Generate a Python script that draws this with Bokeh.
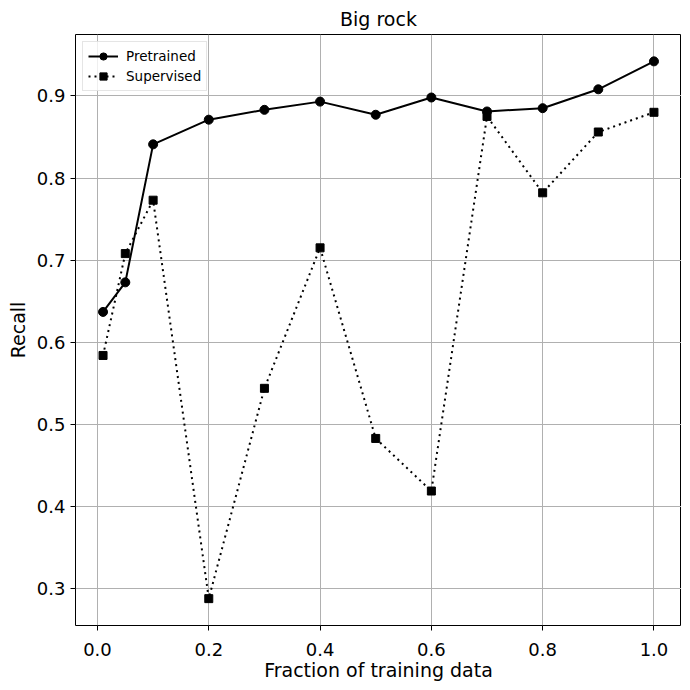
from bokeh.plotting import figure
from bokeh.models import Range1d, FixedTicker, Legend, LegendItem, PrintfTickFormatter
from bokeh.embed import file_html
from bokeh.resources import INLINE

fractions = [0.01, 0.05, 0.1, 0.2, 0.3, 0.4, 0.5, 0.6, 0.7, 0.8, 0.9, 1.0]
pretrained = [0.637, 0.673, 0.841, 0.871, 0.883, 0.893, 0.877, 0.898, 0.881, 0.885, 0.908, 0.942]
supervised = [0.584, 0.708, 0.773, 0.288, 0.544, 0.715, 0.483, 0.419, 0.875, 0.782, 0.856, 0.880]
x_ticks = [0.0, 0.2, 0.4, 0.6, 0.8, 1.0]
y_ticks = [0.3, 0.4, 0.5, 0.6, 0.7, 0.8, 0.9]

FONT = "DejaVu Sans"

p = figure(width=681, height=683, output_backend="svg", toolbar_location=None,
           x_range=Range1d(-0.0395, 1.0495), y_range=Range1d(0.2553, 0.9747),
           min_border_left=75, min_border_right=0, min_border_top=0, min_border_bottom=10)

p.title.text = "Big rock"
p.title.align = "center"
p.title.text_font = FONT
p.title.text_font_size = "19px"
p.title.text_font_style = "normal"
p.title.text_color = "black"

p.outline_line_color = "black"
p.outline_line_width = 1
p.outline_line_alpha = 1

for ax in (p.xaxis[0], p.yaxis[0]):
    ax.axis_line_color = None
    ax.major_tick_in = 0
    ax.major_tick_out = 5
    ax.minor_tick_line_color = None
    ax.major_tick_line_color = "black"
    ax.major_label_text_font = FONT
    ax.major_label_text_font_size = "18px"
    ax.major_label_text_color = "black"
    ax.axis_label_text_font = FONT
    ax.axis_label_text_font_size = "19px"
    ax.axis_label_text_font_style = "normal"
    ax.axis_label_text_color = "black"
    ax.formatter = PrintfTickFormatter(format="%.1f")

p.xaxis.major_label_standoff = 12
p.xaxis.axis_label_standoff = 0
p.xaxis.ticker = FixedTicker(ticks=x_ticks)
p.yaxis.ticker = FixedTicker(ticks=y_ticks)
p.xaxis.axis_label = "Fraction of training data"
p.yaxis.axis_label = "Recall"

p.grid.grid_line_color = "#b0b0b0"
p.grid.grid_line_width = 1
p.xgrid.ticker = FixedTicker(ticks=x_ticks)
p.ygrid.ticker = FixedTicker(ticks=y_ticks)

l1 = p.line(fractions, pretrained, line_color="black", line_width=2)
s1 = p.scatter(fractions, pretrained, marker="circle", size=9, fill_color="black", line_color="black")
l2 = p.line(fractions, supervised, line_color="black", line_width=2, line_dash="2 4")
s2 = p.scatter(fractions, supervised, marker="square", size=8, fill_color="black", line_color="black")

legend = Legend(items=[LegendItem(label="Pretrained", renderers=[l1, s1]),
                       LegendItem(label="Supervised", renderers=[l2, s2])],
                location="top_left")
legend.label_text_font = FONT
legend.label_text_font_size = "13.5px"
legend.label_text_color = "black"
legend.border_line_color = "#cccccc"
legend.border_line_width = 1
legend.background_fill_alpha = 0.8
legend.glyph_width = 30
legend.glyph_height = 18
legend.label_height = 18
legend.spacing = 2
legend.padding = 5
legend.margin = 7
legend.label_standoff = 8
p.add_layout(legend)

open("out.html", "w").write(file_html(p, INLINE))
